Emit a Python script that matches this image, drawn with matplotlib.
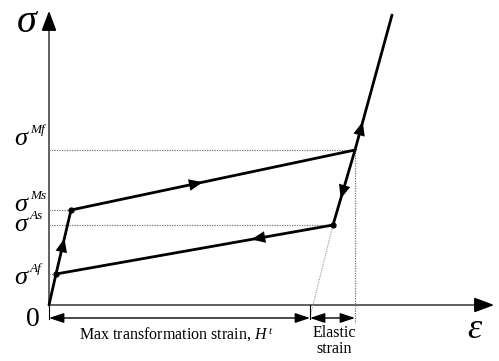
import matplotlib
matplotlib.use("Agg")
import matplotlib.pyplot as plt
import numpy as np

# Loading path points (strain, stress) in drawing units
path_labels = ["O", "Af", "Ms", "Mf", "As"]
strain = [0, 7, 22, 306, 284]
stress = [0, 31, 95, 155, 80]
top_point = (343, 290)

# Stress level labels
level_names = ["Mf", "Ms", "As", "Af"]
level_stress = [155, 95, 80, 31]
level_strain = [306, 22, 284, 7]
label_y = [166, 100, 80, 27]

elastic_start = 261  # strain where elastic unloading line meets axis

plt.rcParams["font.family"] = ["Liberation Serif", "DejaVu Serif"]
plt.rcParams["mathtext.fontset"] = "custom"
plt.rcParams["mathtext.it"] = "Liberation Serif:italic"
plt.rcParams["mathtext.rm"] = "Liberation Serif"

fig = plt.figure(figsize=(4.99, 3.61), dpi=100)
ax = fig.add_axes([0, 0, 1, 1])
ax.set_xlim(-49, 450)
ax.set_ylim(-56, 305)
ax.axis("off")

# axes with arrows
ax.plot([0, 430], [0, 0], color="#555555", lw=1.3)
ax.plot([0, 0], [0, 280], color="#555555", lw=1.3)
ax.annotate("", xy=(448, 0), xytext=(425, 0),
            arrowprops=dict(arrowstyle="-|>,head_length=1.2,head_width=0.45",
                            color="black", lw=1.3))
ax.annotate("", xy=(0, 297), xytext=(0, 275),
            arrowprops=dict(arrowstyle="-|>,head_length=1.2,head_width=0.45",
                            color="black", lw=1.3))

# dotted guide lines
for name, s, e in zip(level_names, level_stress, level_strain):
    ax.plot([0, e], [s, s], color="#777777", lw=0.9, ls=(0, (1, 1)))
ax.plot([strain[3], strain[3]], [stress[3], -18], color="#777777", lw=0.9, ls=(0, (1, 1)))
ax.plot([strain[4], elastic_start], [stress[4], -12], color="#999999", lw=0.8, ls=(0, (1, 1)))
ax.plot([elastic_start, elastic_start], [0, -14], color="black", lw=0.8)
ax.plot([0, 0], [0, -14], color="black", lw=0.8)

# hysteresis loop
loop_x = [strain[0], strain[1], strain[2], strain[3], top_point[0]]
loop_y = [stress[0], stress[1], stress[2], stress[3], top_point[1]]
ax.plot(loop_x, loop_y, color="black", lw=2.0, solid_capstyle="round")
ax.plot([strain[1], strain[4], strain[3]], [stress[1], stress[4], stress[3]],
        color="black", lw=2.0)
for i in [1, 2, 4]:
    ax.plot(strain[i], stress[i], "o", color="black", ms=3.5)

# direction arrows along the path
def mid_arrow(p0, p1, frac=0.5):
    p0 = np.array(p0, float)
    p1 = np.array(p1, float)
    c = p0 + frac * (p1 - p0)
    d = (p1 - p0) / np.linalg.norm(p1 - p0)
    ax.annotate("", xy=c + d * 7, xytext=c - d * 7,
                arrowprops=dict(arrowstyle="-|>,head_length=1.0,head_width=0.42",
                                color="black", lw=0, shrinkA=0, shrinkB=0))

mid_arrow((strain[0], stress[0]), (strain[2], stress[2]), 0.63)
mid_arrow((strain[2], stress[2]), (strain[3], stress[3]), 0.44)
mid_arrow((strain[3], stress[3]), (strain[4], stress[4]), 0.56)
mid_arrow((strain[4], stress[4]), (strain[1], stress[1]), 0.27)
mid_arrow((strain[3], stress[3]), top_point, 0.16)

# dimension arrows
dim_y = -13
ax.annotate("", xy=(0, dim_y), xytext=(elastic_start, dim_y),
            arrowprops=dict(arrowstyle="<|-|>,head_length=0.9,head_width=0.3",
                            color="black", lw=1.0, shrinkA=0, shrinkB=0))
ax.annotate("", xy=(elastic_start, dim_y), xytext=(strain[3], dim_y),
            arrowprops=dict(arrowstyle="<|-|>,head_length=0.9,head_width=0.3",
                            color="black", lw=1.0, shrinkA=0, shrinkB=0))

# text
ax.text(-21, 283, r"$\sigma$", fontsize=29, ha="center", va="center")
ax.text(426, -25, r"$\varepsilon$", fontsize=26, ha="center", va="center")
ax.text(-16, -15, "0", fontsize=20, ha="center", va="center")
for name, y in zip(level_names, label_y):
    ax.text(-27, y, r"$\sigma$", fontsize=19, ha="center", va="center")
    ax.text(-19, y + 9, name, fontsize=9.5, style="italic",
            ha="left", va="center")
ax.text(127, -30, r"Max transformation strain, $H^{\,t}$", fontsize=11.5,
        ha="center", va="center")
ax.text(285, -36, "Elastic\nstrain", fontsize=11.5, ha="center", va="center",
        linespacing=1.05)

fig.savefig("out.png", dpi=100)
